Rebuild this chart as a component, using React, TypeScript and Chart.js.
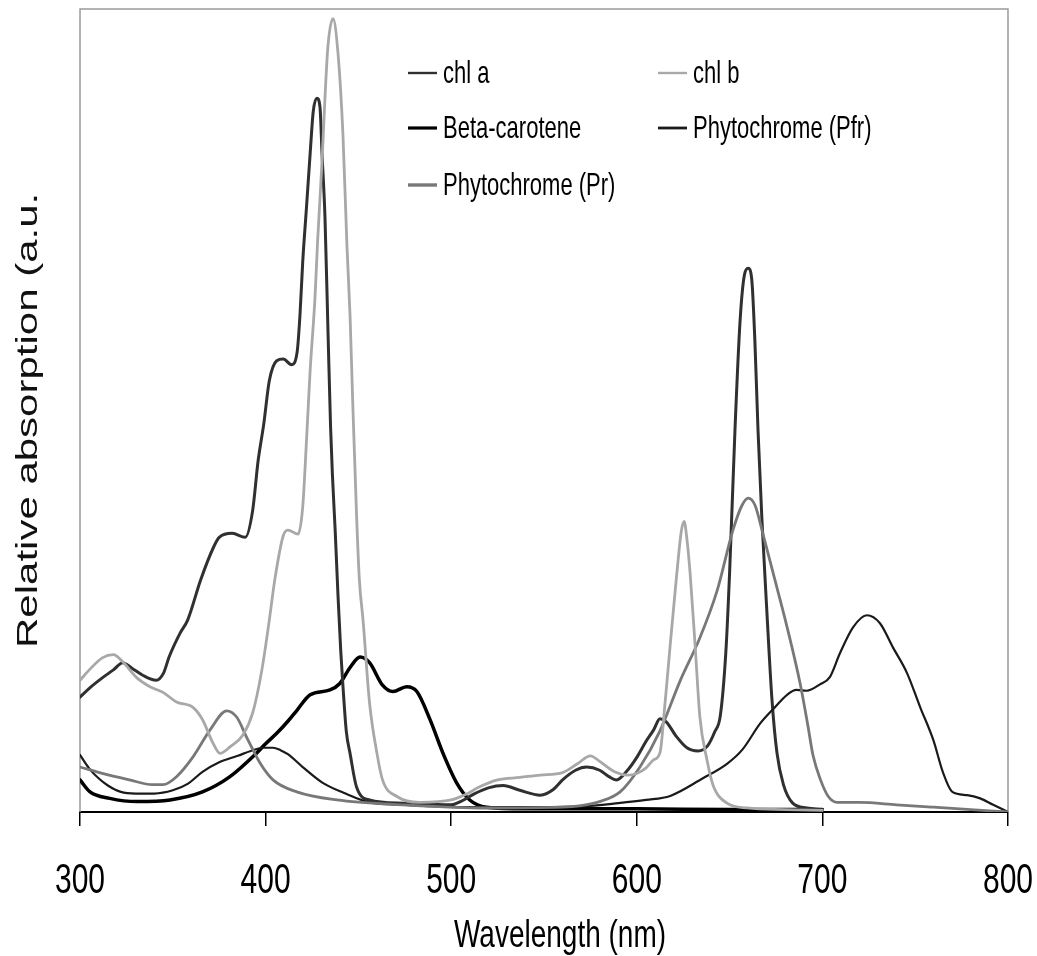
import React, { useEffect, useRef } from "react";
import { Chart, registerables } from "chart.js";

Chart.register(...registerables);

// ---- data (wavelength in nm, relative absorption in a.u.) ----
const chlAWl = [300, 305, 312, 318, 323, 328, 334, 341, 345, 348, 354, 358, 365, 372, 375, 382, 389, 393, 396, 399, 402, 406, 409.5, 414, 417, 418.5, 420, 422, 424, 425.7, 427.6, 429.3, 430.4, 432, 433.6, 435, 436, 437.5, 439, 440.5, 441.7, 443.5, 445.5, 449, 456, 474, 500, 505, 512, 520, 528, 537, 548, 555, 560, 567, 573, 580, 585, 589, 595, 600, 605, 609, 612.5, 616, 621, 627, 633, 638, 642, 645, 648, 650, 652.9, 655.6, 658, 660, 661.9, 663.6, 665.3, 667.4, 670, 672.8, 675.5, 679, 684, 691.6, 700];
const chlA = [14.3, 15.4, 16.7, 17.7, 18.6, 17.9, 17, 16.4, 17.3, 19.3, 22.3, 23.9, 28.9, 33, 34.2, 34.7, 34.2, 37.5, 43.8, 48.3, 53.7, 56.2, 56.4, 55.7, 57.3, 61.8, 68.5, 75.2, 82, 87.3, 88.9, 87.8, 82, 74, 60, 48, 42, 35, 27, 20, 15.6, 10, 7.3, 3.1, 1.5, 1.1, 0.9, 1.3, 2.2, 3, 3.3, 2.7, 2.1, 2.8, 4, 5.2, 5.6, 5.2, 4.4, 4, 5.2, 6.8, 8.8, 10.2, 11.6, 11.2, 9.5, 8, 7.6, 8.2, 10, 12, 20, 29.8, 47.6, 61, 66.9, 67.7, 66.4, 58.8, 47.6, 36.5, 25.3, 14.1, 7.4, 3.4, 1.1, 0.5, 0.3];

const chlBWl = [300, 305, 312, 318, 323, 330.7, 337.7, 344.7, 352, 361, 366, 371.6, 375.4, 380.8, 387.8, 393, 398, 402, 405, 409.5, 412, 417.5, 420, 422, 424, 426.6, 428, 430.4, 432, 433.6, 436.3, 439, 441.7, 443.8, 445.5, 447, 449, 450.5, 452.5, 456, 460, 463, 471, 483, 500, 508, 515, 525, 537, 548, 560, 568, 575, 580, 588, 595, 600, 605, 609, 612.5, 615, 618, 621.6, 624, 625.5, 627, 628.7, 631.4, 634, 637.8, 641, 648.6, 659.4, 680, 700];
const chlB = [16.4, 17.7, 19.2, 19.6, 18.7, 16.7, 15.6, 14.9, 13.7, 13, 11.5, 8.6, 7.3, 8.1, 9.6, 12.3, 17.7, 23.9, 29, 34.4, 35.1, 34.6, 38, 46.1, 55, 64, 71, 81, 89, 95.4, 98.8, 94.5, 84.2, 70.7, 61.8, 50.6, 37, 29, 23.9, 13.6, 7.3, 4, 1.9, 1.2, 1.5, 2.2, 3.1, 4, 4.3, 4.6, 4.9, 6, 7, 6.3, 5, 4.6, 4.8, 5.5, 6.5, 7.4, 13, 20.8, 29.8, 35, 36.2, 34, 29.8, 20.8, 11.8, 6.5, 3.4, 1.1, 0.5, 0.3, 0.2];

const betaWl = [300, 305.4, 316, 330.7, 348.5, 366, 380.8, 395, 400, 406, 412, 417, 424, 434.7, 440, 445.5, 450.9, 456, 463, 468.6, 476, 481.5, 488.6, 495.6, 503, 510, 519, 540, 600, 650, 700];
const beta = [4, 2.5, 1.7, 1.3, 1.5, 2.5, 4.4, 7.3, 8.5, 9.8, 11.3, 12.7, 14.6, 15.2, 16, 18, 19.3, 18.6, 15.8, 15, 15.6, 15, 11.5, 7.3, 3.6, 1.5, 0.6, 0.4, 0.4, 0.3, 0.3];

const pfrWl = [300, 305, 310, 315, 322, 330, 340, 350, 358, 366, 375, 385, 392, 399, 404, 408, 412, 420, 431, 442, 456, 474, 510, 540, 570, 590, 605, 618, 635.6, 648.6, 657, 666.4, 673.4, 681, 686, 691.6, 698.7, 704, 709.5, 716.5, 724, 731, 738, 745.6, 752.6, 759.7, 765, 770, 778, 785, 792, 800];
const pfr = [7.1, 5.4, 4.2, 3.3, 2.5, 2.3, 2.3, 2.7, 3.5, 5, 6.2, 7, 7.6, 8, 8, 7.7, 7.2, 5.6, 3.6, 2.4, 1.2, 0.9, 0.6, 0.6, 0.7, 1.1, 1.5, 2, 4.2, 6, 7.8, 11, 12.8, 14.6, 15.2, 15.1, 15.9, 16.8, 19.8, 23, 24.5, 23.5, 20.5, 17.3, 13.1, 9, 4.9, 2.5, 2.1, 1.7, 0.9, 0];

const prWl = [300, 312, 326.7, 339, 344.7, 352, 361, 370, 379, 384.5, 389.8, 397, 404, 416.8, 438.4, 474, 519, 560, 570, 580, 591, 601.7, 612.5, 623.3, 634, 643.2, 651.8, 656.7, 660, 663.7, 668, 673.4, 681, 688, 692, 695, 699, 703, 708, 720, 740, 760, 780, 800];
const pr = [5.6, 4.8, 4, 3.4, 3.4, 4.4, 6.9, 10.2, 12.6, 11.8, 9.3, 6.1, 4, 2.5, 1.5, 0.9, 0.5, 0.6, 0.8, 1.3, 2.5, 5.6, 10.1, 16.3, 21.7, 27.5, 35.1, 38.2, 39.1, 38.2, 34.6, 29.8, 23, 16, 11, 7, 4, 2, 1.2, 1.2, 0.9, 0.6, 0.3, 0];

const xTickValues = [300, 400, 500, 600, 700, 800];
const xTitle = "Wavelength (nm)";
const yTitle = "Relative absorption (a.u.";

// ---- series styling ----
const series = [
  { label: "chl a", wl: chlAWl, val: chlA, color: "#303030", width: 3, legendWidth: 2.4 },
  { label: "chl b", wl: chlBWl, val: chlB, color: "#a8a8a8", width: 2.8, legendWidth: 2.4 },
  { label: "Beta-carotene", wl: betaWl, val: beta, color: "#000000", width: 3.5, legendWidth: 3.2 },
  { label: "Phytochrome (Pfr)", wl: pfrWl, val: pfr, color: "#1a1a1a", width: 2.2, legendWidth: 2.8 },
  { label: "Phytochrome (Pr)", wl: prWl, val: pr, color: "#787878", width: 2.8, legendWidth: 3.4 },
];
const drawOrder = [1, 4, 3, 0, 2];

const FONT = "'Liberation Sans', Arial, Helvetica, sans-serif";

function stretchedText(
  ctx: CanvasRenderingContext2D,
  text: string,
  x: number,
  y: number,
  size: number,
  sy: number,
  align: CanvasTextAlign,
  color: string,
  rotate = 0
) {
  ctx.save();
  ctx.translate(x, y);
  if (rotate) ctx.rotate(rotate);
  if (rotate) ctx.scale(sy, 1);
  else ctx.scale(1, sy);
  ctx.font = `${size}px ${FONT}`;
  ctx.textAlign = align;
  ctx.textBaseline = "alphabetic";
  ctx.fillStyle = color;
  ctx.fillText(text, 0, 0);
  ctx.restore();
}

const framePlugin = {
  id: "frameAndText",
  beforeDatasetsDraw(chart: any) {
    const { ctx, chartArea } = chart;
    ctx.save();
    ctx.strokeStyle = "#9a9a9a";
    ctx.lineWidth = 1.5;
    ctx.beginPath();
    ctx.moveTo(chartArea.left, chartArea.bottom);
    ctx.lineTo(chartArea.left, chartArea.top);
    ctx.lineTo(chartArea.right, chartArea.top);
    ctx.lineTo(chartArea.right, chartArea.bottom);
    ctx.stroke();
    ctx.restore();
  },
  afterDraw(chart: any) {
    const { ctx, chartArea } = chart;
    const xs = chart.scales.x;
    xs.ticks.forEach((t: any) => {
      const px = xs.getPixelForValue(t.value);
      stretchedText(ctx, String(t.value), px, chartArea.bottom + 81, 30, 1.4, "center", "#000");
    });
    stretchedText(ctx, xTitle, (chartArea.left + chartArea.right) / 2 + 16, chartArea.bottom + 135, 28, 1.4, "center", "#000");
    stretchedText(ctx, yTitle, 37, 648, 30, 1.4, "left", "#111", -Math.PI / 2);
    const cols = [408, 658];
    const rows = [73, 128, 185];
    series.forEach((s, i) => {
      const cx = cols[i % 2];
      const cy = rows[Math.floor(i / 2)];
      ctx.save();
      ctx.strokeStyle = s.color;
      ctx.lineWidth = s.legendWidth;
      ctx.beginPath();
      ctx.moveTo(cx, cy);
      ctx.lineTo(cx + 29, cy);
      ctx.stroke();
      ctx.restore();
      stretchedText(ctx, s.label, cx + 35, cy + 10, 22, 1.45, "left", "#000");
    });
  },
};

export default function App() {
  const canvasRef = useRef<HTMLCanvasElement | null>(null);

  useEffect(() => {
    document.body.style.margin = "0";
    const canvas = canvasRef.current;
    if (!canvas) return;
    const datasets = drawOrder.map((idx) => {
      const s = series[idx];
      return {
        label: s.label,
        data: s.wl.map((w, k) => ({ x: w, y: s.val[k] })),
        borderColor: s.color,
        borderWidth: s.width,
        pointRadius: 0,
        fill: false,
        cubicInterpolationMode: "monotone" as const,
        borderJoinStyle: "round" as const,
        borderCapStyle: "round" as const,
      };
    });
    const chart = new Chart(canvas, {
      type: "line",
      data: { datasets },
      options: {
        animation: false,
        responsive: false,
        maintainAspectRatio: false,
        layout: { padding: { left: 80, right: 29, top: 9, bottom: 130 } },
        plugins: { legend: { display: false }, tooltip: { enabled: false } },
        scales: {
          x: {
            type: "linear",
            min: 300,
            max: 800,
            afterBuildTicks: (axis: any) => {
              axis.ticks = xTickValues.map((v) => ({ value: v }));
            },
            ticks: { display: false },
            grid: {
              drawOnChartArea: false,
              drawTicks: true,
              tickLength: 14,
              color: "#000",
              lineWidth: 1.5,
            },
            border: { display: true, color: "#000", width: 2 },
          },
          y: { display: false, min: 0, max: 100 },
        },
      },
      plugins: [framePlugin],
    });
    return () => chart.destroy();
  }, []);

  return (
    <div style={{ width: 1037, height: 956, background: "#fff" }}>
      <canvas ref={canvasRef} width={1037} height={956} style={{ display: "block" }} />
    </div>
  );
}
